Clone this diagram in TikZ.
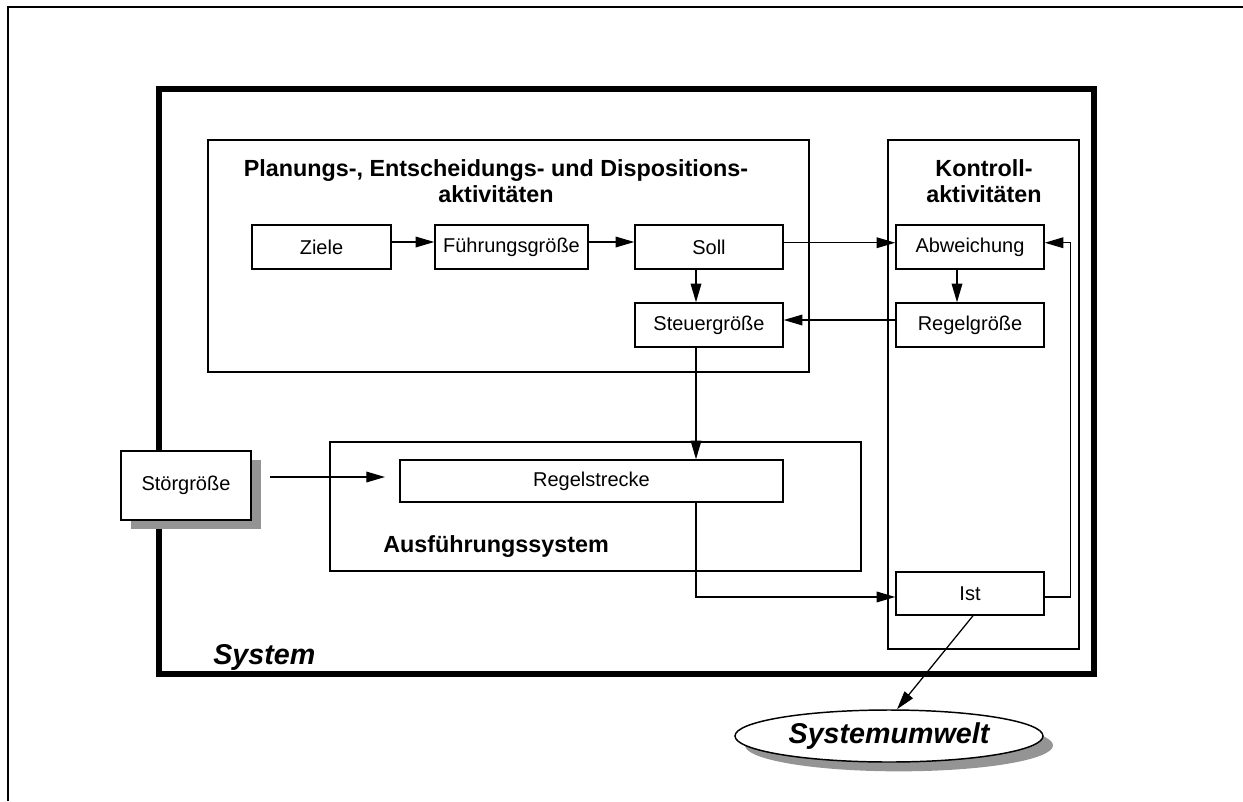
\documentclass[tikz,border=0pt]{standalone}
\usepackage{fontspec}
\setmainfont{Liberation Sans}
\usetikzlibrary{arrows.meta,shadows,shapes.geometric}
\begin{document}
\begin{tikzpicture}[x=0.75pt,y=-0.75pt,
  every node/.style={inner sep=0pt},
  lbl/.style={font=\fontsize{15pt}{18pt}\selectfont},
  blk/.style={draw, line width=1.1pt, fill=white, lbl, minimum height=33pt},
  grp/.style={draw, line width=2.2pt},
  head/.style={font=\fontsize{17.5pt}{19.5pt}\selectfont\bfseries, align=center},
  big/.style={font=\fontsize{21.5pt}{24pt}\selectfont\bfseries\itshape},
  conn/.style={line width=0.95pt},
  arr/.style={conn, -{Triangle[length=14pt,width=8pt]}},
  shade/.style={drop shadow={shadow xshift=7.5pt, shadow yshift=-7pt, fill=black!42, opacity=1}}
]
\useasboundingbox (0,0) rectangle (1243,801);

% page frame
\draw[line width=2pt] (8,801) -- (8,7) -- (1243,7);

% system boundary and the three activity areas
\node[draw, line width=4.2pt, minimum width=701.25pt, minimum height=438.75pt] (system) at (626.5,381.5) {};
\node[grp, minimum width=450.75pt, minimum height=174pt] (plan) at (508.5,256) {};
\node[grp, minimum width=143.25pt, minimum height=381.75pt] (kontroll) at (983.5,394.5) {};
\node[grp, minimum width=398.25pt, minimum height=96.75pt] (ausf) at (595.5,506.5) {};

% headings
\node[head] (plantitle) at (496,181) {Planungs-, Entscheidungs- und Dispositions-\\aktivitäten};
\node[head] (kontrolltitle) at (984,181) {Kontroll-\\aktivitäten};
\node[head, anchor=west] (ausftitle) at (383,547) {Ausführungssystem};
\node[big, anchor=west] (systitle) at (213,657) {System};

% blocks
\node[blk, minimum width=104.25pt] (ziele) at (321.5,247) {Ziele};
\node[blk, minimum width=114.75pt] (fuehr) at (511.5,247) {Führungsgröße};
\node[blk, minimum width=111pt] (soll) at (709,247) {Soll};
\node[blk, minimum width=111pt] (steuer) at (709,325) {Steuergröße};
\node[blk, minimum width=111pt] (abw) at (970,247) {Abweichung};
\node[blk, minimum width=111pt] (regel) at (970,325) {Regelgröße};
\node[blk, minimum width=111pt, minimum height=32.25pt] (ist) at (970,593.5) {Ist};
\node[blk, minimum width=287.25pt, minimum height=31.5pt] (strecke) at (591.5,481) {Regelstrecke};
\node[blk, shade, minimum width=97.5pt, minimum height=51.75pt] (stoer) at (186,485.5) {Störgröße};
\node[draw, ellipse, line width=1.1pt, fill=white, shade, big, minimum width=231pt, minimum height=39pt] (umwelt) at (889,736) {Systemumwelt};

% connectors
\draw[arr] ([yshift=3.75pt]ziele.east) -- ([yshift=3.75pt]fuehr.west);
\draw[arr] ([yshift=3.75pt]fuehr.east) -- ([yshift=3.75pt]soll.west);
\draw[arr] ([yshift=3.2pt]soll.east) -- ([yshift=3.2pt]abw.west);
\draw[arr] ([xshift=-9.75pt]soll.south) -- ([xshift=-9.75pt]steuer.north);
\draw[arr] ([xshift=-9.75pt]abw.south) -- ([xshift=-9.75pt]regel.north);
\draw[arr] ([yshift=3.75pt]regel.west) -- ([yshift=3.75pt]steuer.east);
\draw[arr] ([xshift=-9.75pt]steuer.south) -- ([xshift=-9.75pt]steuer.south |- strecke.north);
\draw[arr] ([xshift=-9.75pt]steuer.south |- strecke.south) |- ([yshift=-2.6pt]ist.west);
\draw[arr] ([yshift=-2.6pt]ist.east) -- ++(26,0) |- ([yshift=3.2pt]abw.east);
\coordinate (stoerout) at (270,477);
\coordinate (streckein) at (385,477);
\draw[arr] (stoerout) -- (streckein);
\draw[arr] ([xshift=2.25pt]ist.south) -- ([xshift=6pt]umwelt.north);
\end{tikzpicture}
\end{document}
